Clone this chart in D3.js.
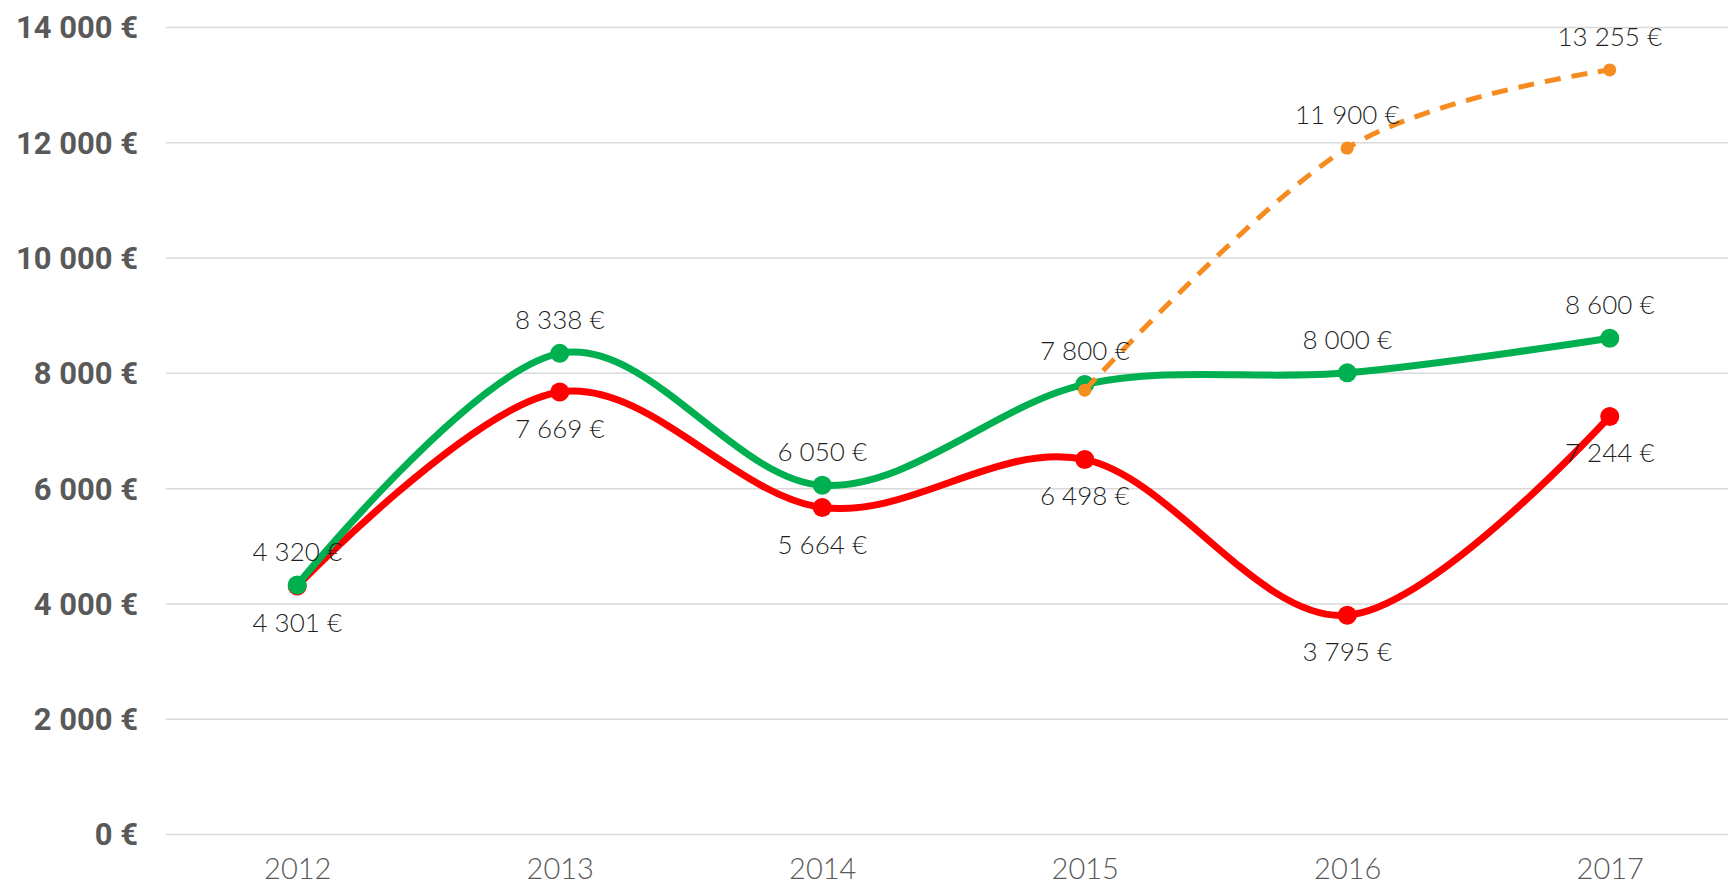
<!DOCTYPE html>
<html>
<head>
<meta charset="utf-8">
<script src="https://cdn.jsdelivr.net/npm/d3@7"></script>
<style>
  body { margin: 0; background: #fff; }
  .ytick { font-family: Roboto, "Open Sans", sans-serif; font-weight: 700; font-size: 31px; fill: #595959; }
  .xtick { font-family: Lato, "Open Sans", sans-serif; font-weight: 300; font-size: 29px; fill: #595959; }
  .dlabel { font-family: Lato, "Open Sans", sans-serif; font-weight: 300; font-size: 26px; fill: #1f1f1f; }
</style>
</head>
<body>
<div id="chart"></div>
<script>
var svgWidth = 1728;
var svgHeight = 890;

var years = ["2012", "2013", "2014", "2015", "2016", "2017"];
var greenValues = [4320, 8338, 6050, 7800, 8000, 8600];
var redValues = [4301, 7669, 5664, 6498, 3795, 7244];
var orangeYears = ["2015", "2016", "2017"];
var orangeValues = [7700, 11900, 13255];
var orangeShown = [false, true, true];
var yTicks = [0, 2000, 4000, 6000, 8000, 10000, 12000, 14000];

var plot = { left: 166, right: 1741, top: 27, bottom: 834 };

var svg = d3.select("#chart")
    .append("svg")
    .attr("width", svgWidth)
    .attr("height", svgHeight);

var xScale = d3.scalePoint()
    .domain(years)
    .range([plot.left, plot.right])
    .padding(0.5);

var yScale = d3.scaleLinear()
    .domain([0, 14000])
    .range([plot.bottom, plot.top]);

function euro(v) {
    return d3.format(",")(v).replace(/,/g, " ") + " €";
}

// gridlines + y labels
var leftAxis = d3.axisLeft(yScale)
    .tickValues(yTicks)
    .tickSize(-(plot.right - plot.left))
    .tickPadding(28)
    .tickFormat(euro);

var yAxis = svg.append("g")
    .attr("transform", `translate(${plot.left},0)`)
    .call(leftAxis);
yAxis.select(".domain").remove();
yAxis.selectAll("line").attr("stroke", "#d9d9d9").attr("stroke-width", 1.5);
yAxis.selectAll("text").attr("class", "ytick").attr("fill", null).attr("dy", "0.35em");

// x labels
var bottomAxis = d3.axisBottom(xScale).tickSize(0).tickPadding(24);
var xAxis = svg.append("g")
    .attr("transform", `translate(0,${plot.bottom})`)
    .call(bottomAxis);
xAxis.select(".domain").remove();
xAxis.selectAll("text").attr("class", "xtick").attr("fill", null);

var curve = d3.curveCardinal.tension(0);

function drawSeries(xs, values, color, width, radius, dash) {
    var pts = xs.map(function(d, i) { return [xScale(d), yScale(values[i])]; });
    var line = d3.line().curve(curve);
    svg.append("path")
        .attr("d", line(pts))
        .attr("fill", "none")
        .attr("stroke", color)
        .attr("stroke-width", width)
        .attr("stroke-linecap", dash ? "butt" : "round")
        .attr("stroke-dasharray", dash || null);
    svg.append("g").selectAll("circle")
        .data(pts)
        .enter()
        .append("circle")
        .attr("cx", function(d) { return d[0]; })
        .attr("cy", function(d) { return d[1]; })
        .attr("r", radius)
        .attr("fill", color);
}

drawSeries(years, redValues, "#ff0000", 7, 9.5, null);
drawSeries(years, greenValues, "#00b050", 7, 9.5, null);
drawSeries(orangeYears, orangeValues, "#f68b1f", 5, 6.5, "16,11");

// data labels
function labels(xs, values, offset, shown) {
    svg.append("g").selectAll("text")
        .data(values)
        .enter()
        .filter(function(d, i) { return !shown || shown[i]; })
        .append("text")
        .attr("class", "dlabel")
        .attr("x", function(d) { return xScale(xs[values.indexOf(d)]); })
        .attr("y", function(d) { return yScale(d) + offset; })
        .attr("text-anchor", "middle")
        .attr("dominant-baseline", "central")
        .text(function(d) { return euro(d); });
}

labels(years, redValues, 36, null);
labels(years, greenValues, -34, null);
labels(orangeYears, orangeValues, -34, orangeShown);
</script>
</body>
</html>
